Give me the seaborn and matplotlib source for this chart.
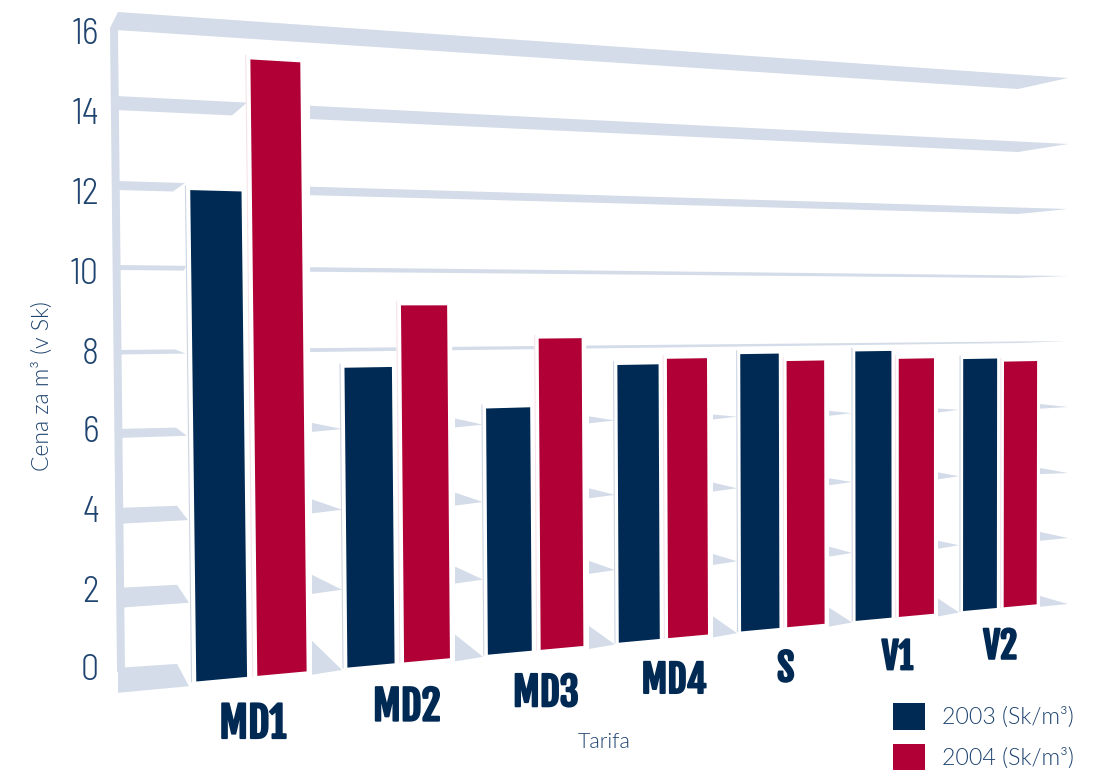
import numpy as np
import pandas as pd
import matplotlib
matplotlib.use("Agg")
import matplotlib.pyplot as plt
import matplotlib.patheffects as pe
import seaborn as sns
from matplotlib.patches import Polygon
from matplotlib.transforms import Transform, IdentityTransform

tariffs = ["MD1", "MD2", "MD3", "MD4", "S", "V1", "V2"]
prices_2003 = [12.2, 7.75, 6.6, 7.7, 7.95, 7.98, 7.7]
prices_2004 = [15.5, 9.35, 8.45, 7.85, 7.73, 7.74, 7.6]
series_names = ["2003 (Sk/m³)", "2004 (Sk/m³)"]
y_ticks = [0, 2, 4, 6, 8, 10, 12, 14, 16]

NAVY = "#002a54"
RED = "#b00035"
SHELF = "#d3dce8"
TEXT = "#1f4470"
W, H = 1103, 772

sns.set_theme(style="white")
plt.rcParams["font.family"] = ["Lato", "Liberation Sans", "DejaVu Sans"]
DIGITS = ["Barlow Semi Condensed", "Liberation Sans Narrow", "Roboto", "DejaVu Sans"]
HEAVY = ["Fjalla One", "Anton", "Liberation Sans Narrow", "Roboto", "DejaVu Sans"]


class Perspective(Transform):
    """Maps (category position, price) onto the slanted front plane, in pixels."""
    input_dims = 2
    output_dims = 2
    has_inverse = False

    def __init__(self, src, dst):
        super().__init__()
        rows, rhs = [], []
        for (u, v), (x, y) in zip(src, dst):
            rows.append([u, v, 1, 0, 0, 0, -u * x, -v * x])
            rows.append([0, 0, 0, u, v, 1, -u * y, -v * y])
            rhs += [x, y]
        self.m = np.append(np.linalg.solve(rows, rhs), 1).reshape(3, 3)

    def transform_non_affine(self, values):
        pts = np.column_stack([values, np.ones(len(values))]) @ self.m.T
        out = pts[:, :2] / pts[:, 2:]
        out[:, 1] = H - out[:, 1]
        return out


bar_width = 0.79
left, right = -bar_width / 2, 6 + bar_width / 2
proj = Perspective(
    [(left, 0), (right, 0), (left, 16), (right, 16)],
    [(191, 682), (1040, 604), (183, 35), (1041, 90)],
)

# pixel rows of the shelf edges, one per tick level
front_left = [693, 608, 524, 438, 354.5, 270, 190, 110, 30]
back_left = [668, 588, 508, 429, 350, 265, 181, 96, 12]
front_right = [609, 543, 475, 410, 343, 278, 214, 152, 89]
back_right = [604, 538, 473, 407, 341, 276, 209, 144, 78]
# how far the left piece of each shelf reaches, back and front edge
left_back_x = [177, 177, 177, 176, 175, 186, 185, 247, 1068]
left_front_x = [189, 189, 188, 187, 186, 184, 173, 232, 1018]
# wedges of shelf seen in the gaps between the groups
gap_left = [312, 455, 589, 713, 829, 938]
gap_right = [342, 483, 615, 737, 852, 959]
wedge_heights = [
    [34, 27, 23, 21, 19, 18],
    [19, 17, 13, 11, 10, 8],
    [14, 13, 10, 9, 7, 7],
    [9, 9, 7, 5, 5, 4],
]
end_lift = [8, 6, 5, 3]
label_nudge = [0, 0.05, 0.07, 0.08, 0.02, 0.02, 0]

fig, ax = plt.subplots(figsize=(W / 100, H / 100), dpi=100)
fig.subplots_adjust(0, 0, 1, 1)
ax.set_axis_off()

df = pd.DataFrame({
    "tariff": tariffs * 2,
    "price": prices_2003 + prices_2004,
    "year": [series_names[0]] * 7 + [series_names[1]] * 7,
})
sns.barplot(df, x="tariff", y="price", hue="year", hue_order=series_names,
            palette=[NAVY, RED], width=bar_width, gap=0.17, saturation=1,
            linewidth=0, ax=ax, zorder=5)
ax.set_xlabel("")
ax.set_ylabel("")

bars = [b for c in ax.containers for b in c]
for b in bars:
    b.set_transform(proj)
    b.set_clip_on(False)


def px(poly, color=SHELF, z=1):
    ax.add_patch(Polygon([(x, H - y) for x, y in poly], closed=True, fc=color, ec="none",
                         transform=IdentityTransform(), clip_on=False, zorder=z))


def y_front(x, i):
    return front_left[i] + (front_right[i] - front_left[i]) * (x - 116) / (1018 - 116)


def y_back(x, i):
    return back_left[i] + (back_right[i] - back_left[i]) * (x - 116) / (1068 - 116)


def plane(u, v):
    p = proj.transform_non_affine(np.array([[u, v]], dtype=float))[0]
    return p[0], H - p[1]


# left wall
px([(118, 12), (110, 28), (117, 672), (125, 672), (118, 32)])

# shelves
for i, lvl in enumerate(y_ticks):
    bx, fx = left_back_x[i], left_front_x[i]
    if lvl == 16:
        px([(118, back_left[i]), (1068, back_right[i]), (1018, front_right[i]), (116, front_left[i])])
        continue
    px([(118, y_back(118, i)), (bx, y_back(bx, i)), (fx, y_front(fx, i)), (118, y_front(118, i))])
    if lvl > 6:
        px([(310, y_back(310, i)), (1068, back_right[i]), (1018, front_right[i]), (310, y_front(310, i))])

# lower shelves only show as wedges between the groups and past the last bar
for i, row in enumerate(wedge_heights):
    for x0, x1, h in zip(gap_left, gap_right, row):
        low = y_front(x0, i)
        px([(x0, low - h), (x1, y_front(x1, i) - 2), (x0, low)], SHELF, 3)
    br = back_right[i]
    px([(1040, br - end_lift[i]), (1068, br), (1040, y_front(1018, i) + (br - front_right[i]) * 0.44)], SHELF, 3)

# white faces of the boxes hide the upper shelves behind them
for b in bars[1:7] + bars[8:14]:
    u0, u1, top = b.get_x(), b.get_x() + b.get_width(), b.get_height()
    xa, ya = plane(u0 - 0.035, top + 0.12)
    xb, yb = plane(u1 + 0.035, top + 0.12)
    xc, yc = plane(u1 + 0.035, 0)
    xd, yd = plane(u0 - 0.035, 0)
    px([(xa, ya), (xb, yb), (xc, yc), (xd, yd)], "white", 2)

# thin edges left of each box
for b, col in zip(bars, ["#cdd5e2"] * 7 + ["#f6e3e9"] * 7):
    x0, y0 = plane(b.get_x() - 0.03, 0)
    x1, y1 = plane(b.get_x() - 0.03, b.get_height() + 0.1)
    ax.plot([x0, x1], [H - y0, H - y1], color=col, lw=0.8, transform=IdentityTransform(), clip_on=False, zorder=4)

# tick labels and titles
px_tf = IdentityTransform()
for lvl, yy in zip(y_ticks, [670, 592, 513, 433, 354, 274, 194, 115, 35]):
    ax.text(99, H - yy, str(lvl), transform=px_tf, ha="right", va="center", fontsize=26, color=TEXT,
            family=DIGITS, fontweight=300)
for g, name in enumerate(tariffs):
    ax.text(g + label_nudge[g], -1.2, name, transform=proj, ha="center", va="center",
            fontsize=[30, 29, 28, 27, 27, 26, 26][g], color=NAVY, clip_on=False, family=HEAVY,
            path_effects=[pe.withStroke(linewidth=1.4, foreground=NAVY)])
ax.text(42, H - 386, "Cena za m³ (v Sk)", transform=px_tf, rotation=90, ha="center", va="center", fontsize=16.5,
        color=TEXT, fontweight=300)
ax.text(604, H - 742, "Tarifa", transform=px_tf, ha="center", va="center", fontsize=15.5, color=TEXT, fontweight=300)

sns.move_legend(ax, "lower right", bbox_to_anchor=(1074 / W, 2 / H), frameon=False, title=None,
                prop={"family": "Lato", "weight": 300, "size": 16.7}, labelcolor=TEXT, handlelength=1.38,
                handleheight=1.38, handletextpad=0.72, labelspacing=0.6, borderpad=0, borderaxespad=0)

fig.savefig("out.png", dpi=100)
